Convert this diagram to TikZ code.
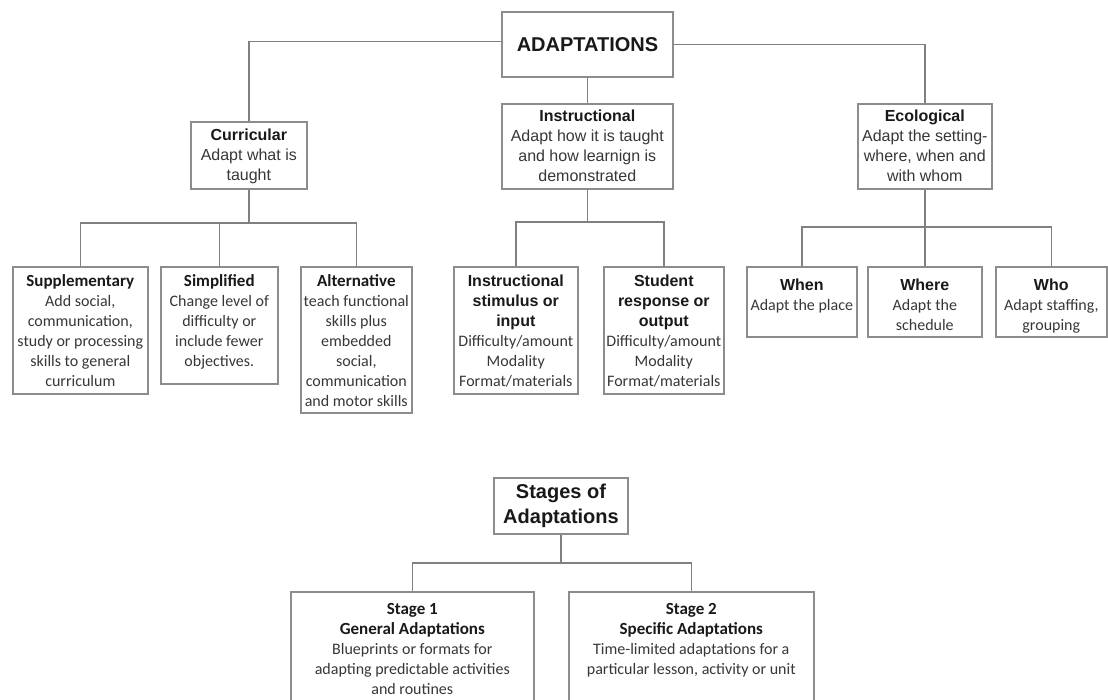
\documentclass[tikz,border=0pt]{standalone}
\usepackage{fontspec}
\setmainfont{Liberation Sans}
\newfontfamily\calf{Carlito}

\definecolor{linec}{RGB}{128,128,128}
\definecolor{boxc}{RGB}{140,140,140}
\definecolor{headc}{RGB}{25,25,25}
\definecolor{bodyc}{RGB}{55,55,55}

% fixed-size cell: width, height, top padding, content (top aligned, centred lines)
\newcommand{\cellbox}[4]{\begin{minipage}[t][#2][t]{#1}\centering\vspace*{#3}\strut#4\end{minipage}}
% headings: sans bold in the upper boxes, sans bold inside Carlito boxes, Carlito bold
\newcommand{\hdA}[1]{{\color{headc}\bfseries #1}}
\newcommand{\hdB}[1]{{\color{headc}\rmfamily\fontsize{16}{20}\selectfont\bfseries #1}}
\newcommand{\hdC}[1]{{\color{headc}\fontsize{17}{20}\selectfont\bfseries #1}}

\tikzset{
  box/.style={draw=boxc, line width=1.6pt, inner sep=0pt, anchor=north west, text=bodyc},
  topbox/.style={box, font=\fontsize{16}{20}\selectfont},
  lowbox/.style={box, font=\calf\fontsize{16}{20}\selectfont},
  conn/.style={draw=linec, line width=1.5pt},
}

\begin{document}
\begin{tikzpicture}[x=1pt,y=-1pt]
\useasboundingbox (0,0) rectangle (1108,699);
\clip (0,0) rectangle (1108,699);
\fill[white] (0,0) rectangle (1108,699);

% ---- top level ----
\node[box, anchor=center, minimum width=171pt, minimum height=65pt,
      font=\fontsize{20}{24}\selectfont\bfseries, text=headc] (adapt) at (587.5,44.5) {ADAPTATIONS};

% ---- second level ----
\node[topbox] (curr) at (190,121)
  {\cellbox{116pt}{67pt}{5pt}{\hdA{Curricular}\\Adapt what is\\taught}};
\node[topbox] (instr) at (501,103)
  {\cellbox{171pt}{85pt}{4pt}{\hdA{Instructional}\\Adapt how it is taught\\and how learnign is\\demonstrated}};
\node[topbox] (eco) at (857,103)
  {\cellbox{134pt}{85pt}{4pt}{\hdA{Ecological}\\Adapt the setting-\\where, when and\\with whom}};

% ---- curricular adaptations ----
\node[lowbox] (sup) at (12,266)
  {\cellbox{135pt}{127pt}{5.5pt}{\hdC{Supplementary}\\Add social,\\communication,\\study or processing\\skills to general\\curriculum}};
\node[lowbox] (simp) at (160,266)
  {\cellbox{117pt}{117pt}{5.5pt}{\hdC{Simplified}\\Change level of\\difficulty or\\include fewer\\objectives.}};
\node[lowbox] (alt) at (300,266)
  {\cellbox{111pt}{146pt}{5.5pt}{\hdC{Alternative}\\teach functional\\skills plus\\embedded\\social,\\communication\\and motor skills}};

% ---- instructional adaptations ----
\node[lowbox] (istim) at (453,266)
  {\cellbox{124pt}{127pt}{5.5pt}{\hdB{Instructional\\stimulus or\\input}\\Difficulty/amount\\Modality\\Format/materials}};
\node[lowbox] (stud) at (603,266)
  {\cellbox{120pt}{127pt}{5.5pt}{\hdB{Student\\response or\\output}\\Difficulty/amount\\Modality\\Format/materials}};

% ---- ecological adaptations ----
\node[lowbox] (when) at (746,266)
  {\cellbox{110pt}{70pt}{10pt}{\hdB{When}\\Adapt the place}};
\node[lowbox] (where) at (867,266)
  {\cellbox{114pt}{70pt}{10pt}{\hdB{Where}\\Adapt the\\schedule}};
\node[lowbox] (who) at (995,266)
  {\cellbox{111pt}{70pt}{10pt}{\hdB{Who}\\Adapt staffing,\\grouping}};

% ---- stages ----
\node[box, anchor=center, minimum width=134pt, minimum height=56pt, align=center,
      font=\fontsize{20}{25}\selectfont\bfseries, text=headc] (stages) at (561,506) {Stages of\\Adaptations};
\node[lowbox] (st1) at (290,591)
  {\cellbox{243pt}{130pt}{9pt}{\hdC{Stage 1\\General Adaptations}\\Blueprints or formats for\\adapting predictable activities\\and routines}};
\node[lowbox] (st2) at (568,591)
  {\cellbox{245pt}{130pt}{9pt}{\hdC{Stage 2\\Specific Adaptations}\\Time-limited adaptations for a\\particular lesson, activity or unit}};

% ---- bus lines ----
\coordinate (cbus) at (0,223);
\coordinate (ibus) at (0,222);
\coordinate (ebus) at (0,227);
\coordinate (sbus) at (0,563);

% ---- connectors ----
\draw[conn] ([yshift=3pt]adapt.west) -| (curr.north);
\draw[conn] (instr.north) -- (instr.north |- adapt.south);
\draw[conn] (adapt.east) -| (eco.north);

\draw[conn] (curr.south) -- (curr.south |- cbus);
\draw[conn] (sup.north) |- (alt.north |- cbus) -- (alt.north);
\draw[conn] (simp.north) -- (simp.north |- cbus);

\draw[conn] (instr.south) -- (instr.south |- ibus);
\draw[conn] (istim.north) |- (stud.north |- ibus) -- (stud.north);

\draw[conn] (eco.south) -- (where.north);
\draw[conn] (when.north) |- (who.north |- ebus) -- (who.north);

\draw[conn] (stages.south) -- (stages.south |- sbus);
\draw[conn] (st1.north) |- (st2.north |- sbus) -- (st2.north);
\end{tikzpicture}
\end{document}
